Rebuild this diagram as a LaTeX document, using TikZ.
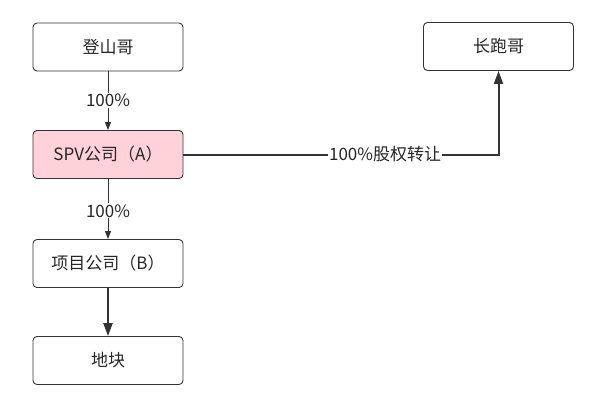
\documentclass[tikz,border=0pt]{standalone}
\usepackage{fontspec}
\setmainfont{Noto Sans CJK SC}
\usetikzlibrary{arrows.meta}
\definecolor{linegray}{HTML}{333333}
\definecolor{pinkfill}{HTML}{FFD1D9}

\begin{document}
\begin{tikzpicture}[x=1pt,y=-1pt,
	box/.style={draw=linegray, line width=0.9pt, rounded corners=4pt, minimum width=150pt, minimum height=48pt, font=\fontsize{17}{19}\selectfont, text=black!85},
	lbl/.style={fill=white, inner sep=1pt, font=\fontsize{17}{19}\selectfont, text=black!85},
	thinarrow/.style={draw=linegray, line width=0.9pt, -{Triangle[length=8pt,width=6pt]}},
	thickarrow/.style={draw=linegray, line width=2pt, -{Triangle[length=13pt,width=9pt]}}]
	\useasboundingbox (0,0) rectangle (598,416);
	\node[box] (dsg) at (108,47) {登山哥};
	\node[box] (cpg) at (498.5,46.5) {长跑哥};
	\node[box, fill=pinkfill] (spv) at (108,154.5) {SPV公司（A）};
	\node[box] (xmgs) at (108,263.5) {项目公司（B）};
	\node[box] (dk) at (108,360.5) {地块};
	\draw[thinarrow] (dsg) -- node[lbl] {100\%} (spv);
	\draw[thinarrow] (spv) -- node[lbl, pos=0.53] {100\%} (xmgs);
	\draw[thickarrow] (xmgs) -- (dk);
	\draw[thickarrow] (spv.east) -| node[lbl, pos=0.32] {100\%股权转让} (cpg.south);
\end{tikzpicture}
\end{document}
